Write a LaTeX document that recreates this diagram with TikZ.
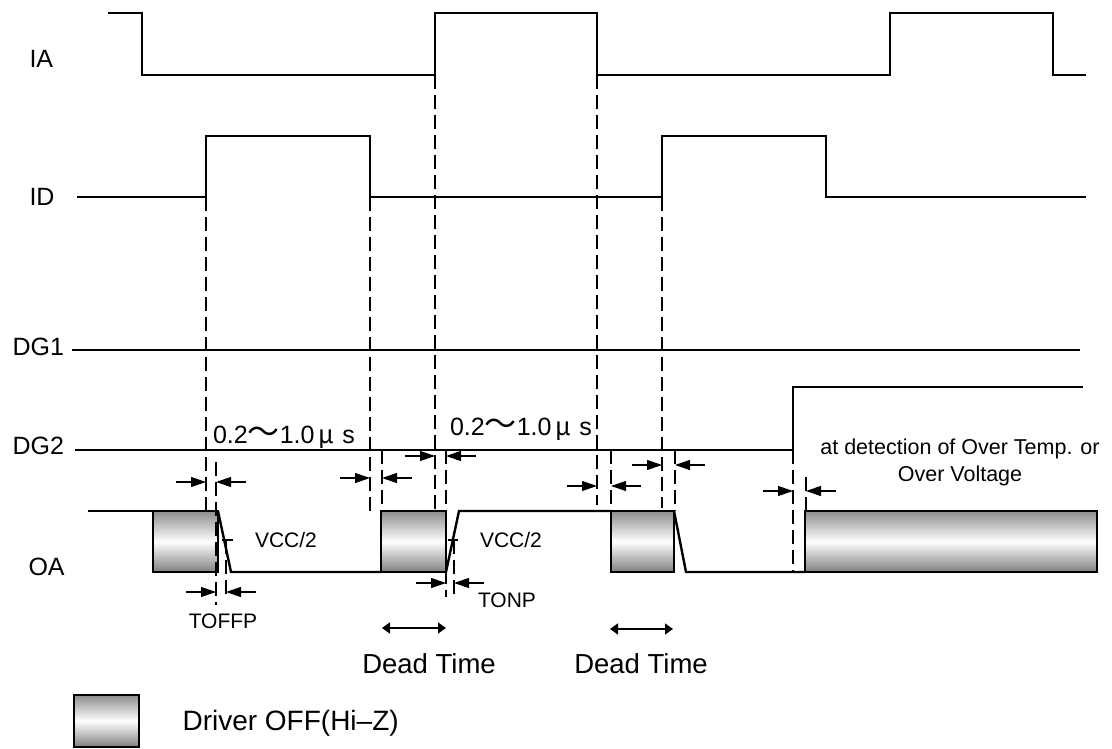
\documentclass[tikz,border=0pt]{standalone}
\usepackage{fontspec}
\setmainfont{Liberation Sans}
\newfontfamily\cjk{Noto Sans CJK JP}
\usetikzlibrary{arrows.meta}

\tikzset{
  sig/.style={line width=2.4pt},
  guide/.style={line width=1.2pt, dash pattern=on 14pt off 6pt},
  dim/.style={line width=1.2pt, -{Triangle[length=15pt,width=10pt]}},
  span/.style={line width=1.5pt, {Triangle[length=8pt,width=11pt]}-{Triangle[length=8pt,width=11pt]}},
  offbox/.style={draw, line width=1.6pt, top color=black!45, bottom color=black!50, middle color=white},
  siglabel/.style={anchor=west, font=\fontsize{25}{30}\selectfont},
  small/.style={font=\fontsize{21}{24}\selectfont},
}
\newcommand{\pulsewidth}{\fontsize{25}{30}\selectfont
  0.2{\cjk\fontsize{32}{32}\selectfont ～}1.0\,{\cjk\itshape μ}\hspace{8pt}s}

\begin{document}
\begin{tikzpicture}[x=1pt, y=-1pt]
  \useasboundingbox (0,0) rectangle (1112,749);

  % signal names
  \node[siglabel] (ia) at (26,59) {IA};
  \node[siglabel] (id) at (26,197) {ID};
  \node[siglabel] (dgone) at (9,347) {DG1};
  \node[siglabel] (dgtwo) at (9,446) {DG2};
  \node[siglabel] (oa) at (25,567) {OA};

  % inputs
  \draw[sig] (108,13) -- (142,13) -- (142,75) -- (435,75) -- (435,13) -- (597,13) -- (597,75)
    -- (890,75) -- (890,13) -- (1053,13) -- (1053,75) -- (1086,75);
  \draw[sig] (77,197) -- (206,197) -- (206,136) -- (370,136) -- (370,197) -- (662,197)
    -- (662,136) -- (826,136) -- (826,197) -- (1086,197);
  \draw[sig] (72,350) -- (1080,350);
  \draw[sig] (75,450) -- (793,450) -- (793,387) -- (1083,387);

  % output
  \draw[offbox] (153,511) rectangle (218,572);
  \draw[offbox] (381,511) rectangle (446,572);
  \draw[offbox] (611,511) rectangle (674,572);
  \draw[offbox] (805,511) rectangle (1097,572);
  \draw[sig] (88,511) -- (153,511);
  \draw[sig] (218,511) -- (231,572) -- (381,572);
  \draw[sig] (446,572) -- (459,511) -- (611,511);
  \draw[sig] (674,511) -- (686,572) -- (805,572);
  \draw[line width=1.2pt] (222,540) -- (233,540) (448,540) -- (458,540);

  % timing guides
  \draw[guide] (206,197) -- (206,511) (216,462) -- (216,605) (226,540) -- (226,600);
  \draw[guide] (370,197) -- (370,515) (382,450) -- (382,511);
  \draw[guide] (435,75) -- (435,511) (446,450) -- (446,597) (454,540) -- (454,597);
  \draw[guide] (597,75) -- (597,505) (611,450) -- (611,511);
  \draw[guide] (662,197) -- (662,508) (675,450) -- (675,511);
  \draw[guide] (793,450) -- (793,572) (806,477) -- (806,511);

  % delay marks
  \foreach \xl/\xr/\y in {206/216/482, 370/382/478, 435/446/456, 597/611/486, 662/675/465,
      793/806/491, 216/226/592, 446/454/583}
  {
    \draw[dim] ({\xl-30},\y) -- (\xl,\y);
    \draw[dim] ({\xr+30},\y) -- (\xr,\y);
  }

  \node (widthone) at (284,437) {\pulsewidth};
  \node (widthtwo) at (521,429) {\pulsewidth};
  \node[small] (vccone) at (286,540) {VCC/2};
  \node[small] (vcctwo) at (511,540) {VCC/2};
  \node[small] (toffp) at (223,621) {TOFFP};
  \node[small] (tonp) at (507,600) {TONP};

  % dead time
  \draw[span] (382,628) -- (446,628);
  \draw[span] (610,629) -- (673,629);
  \node[font=\fontsize{27.5}{30}\selectfont] (deadone) at (429,664) {Dead Time};
  \node[font=\fontsize{27.5}{30}\selectfont] (deadtwo) at (641,664) {Dead Time};

  \node[align=center, font=\fontsize{21.5}{27}\selectfont] (detect) at (960,462)
    {at detection of Over Temp. or\\Over Voltage};

  % legend
  \draw[offbox] (74,695) rectangle (139,747);
  \node[anchor=west, font=\fontsize{28}{30}\selectfont] (legend) at (179,723) {Driver OFF(Hi--Z)};
\end{tikzpicture}
\end{document}
